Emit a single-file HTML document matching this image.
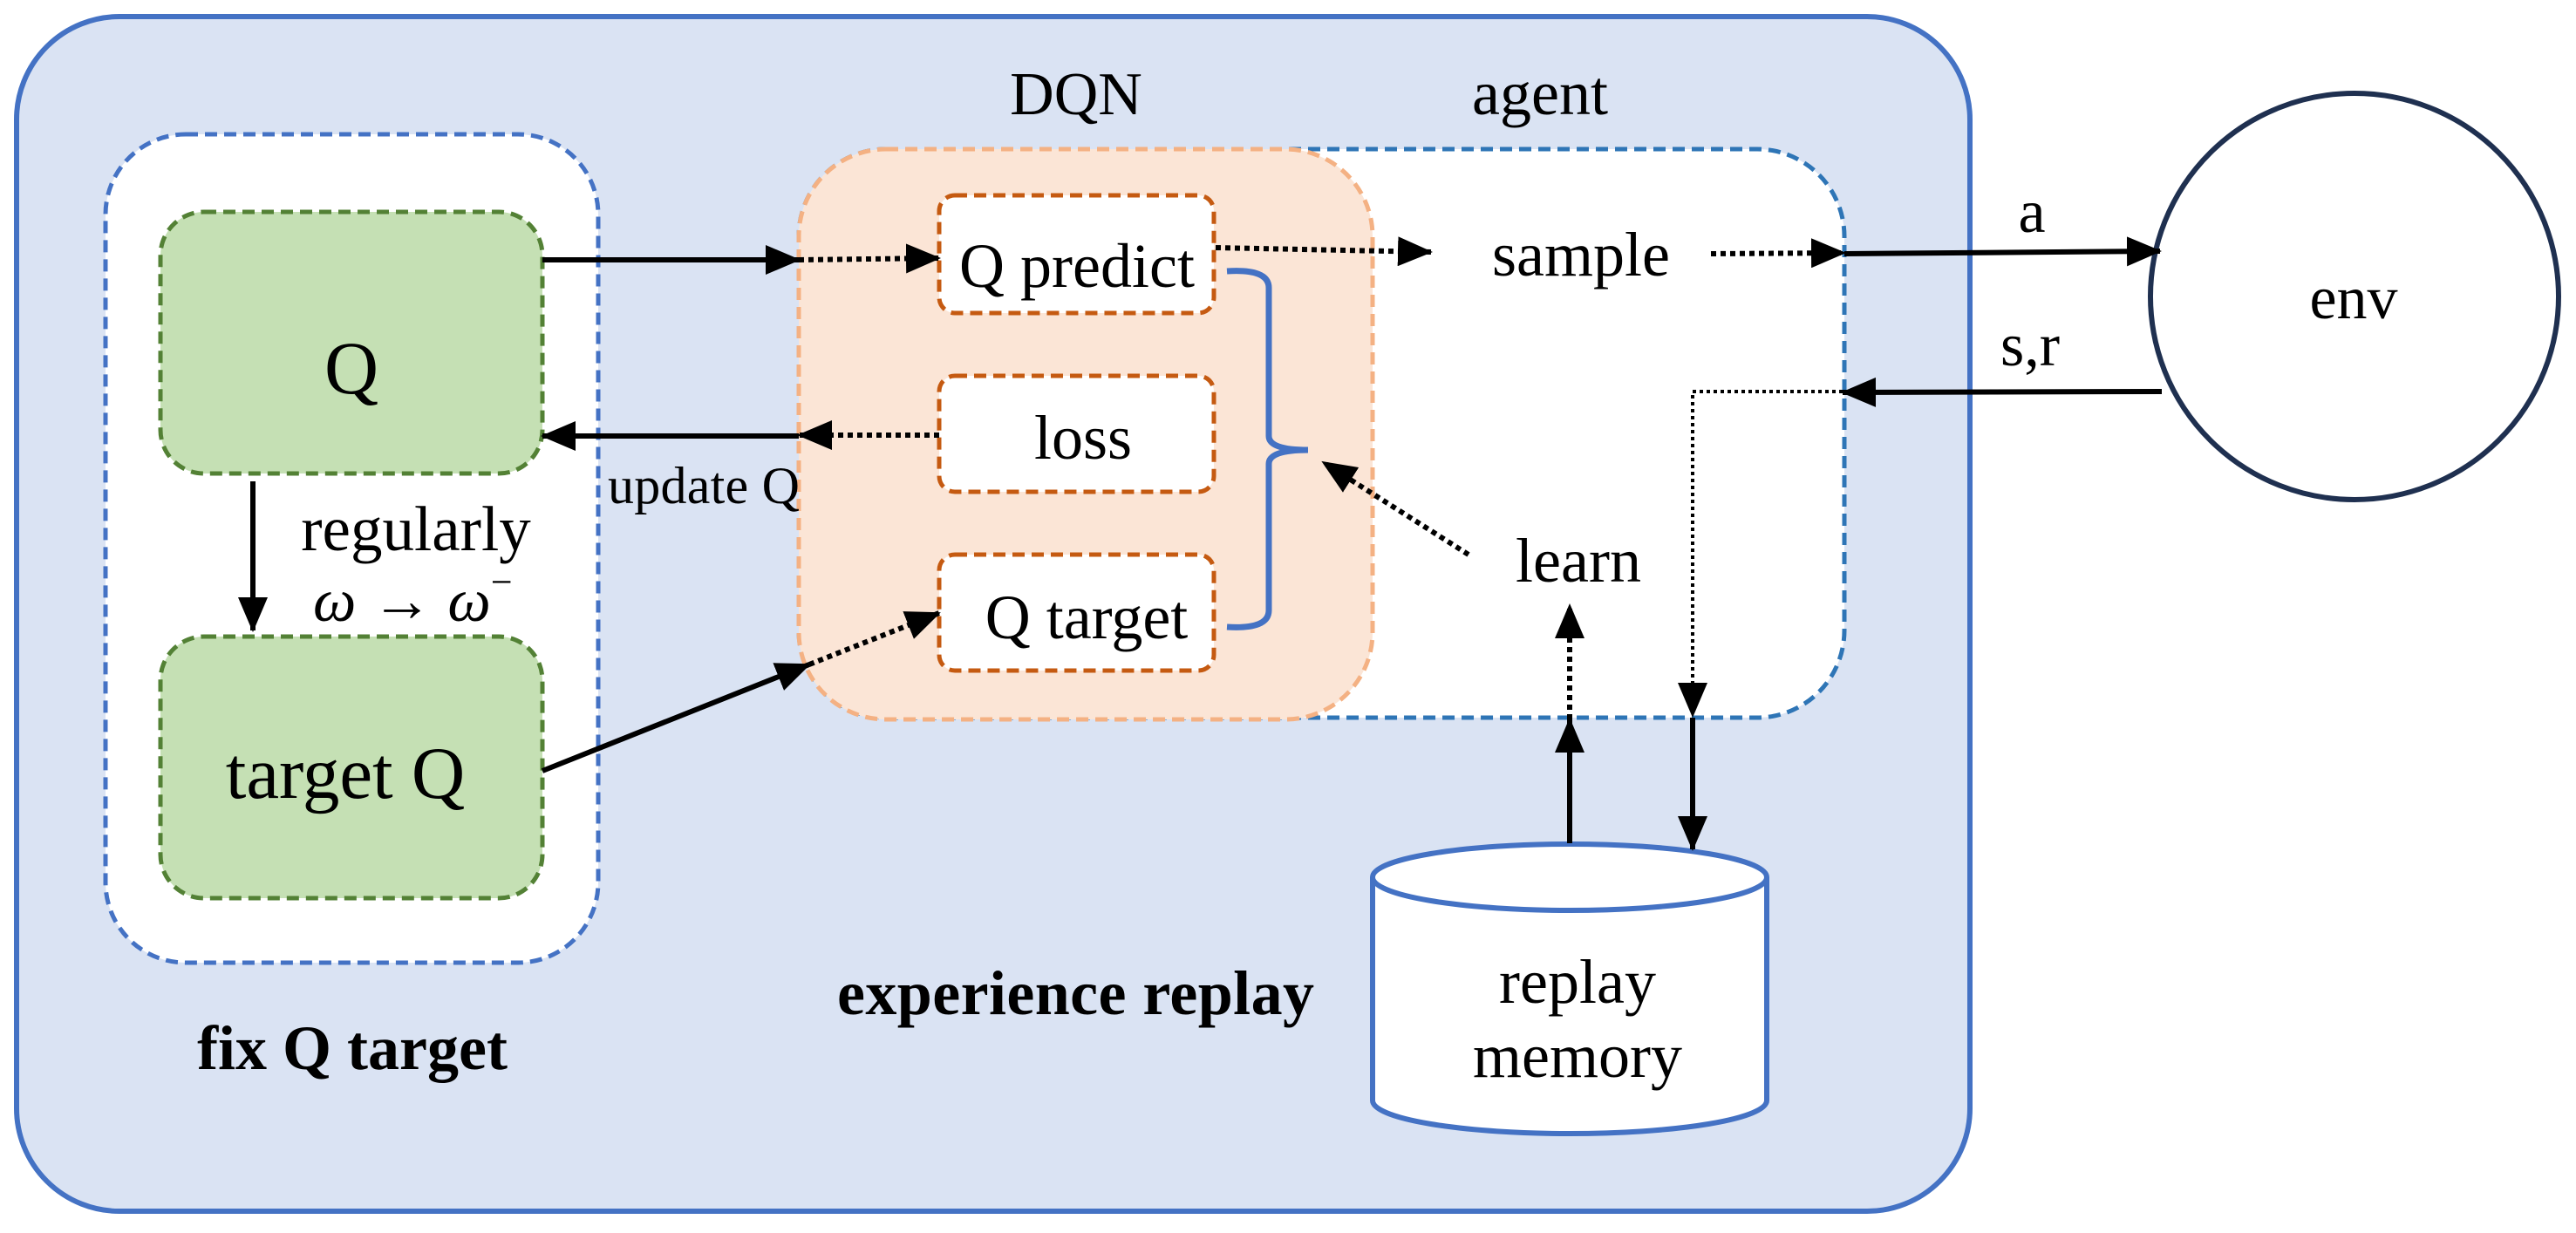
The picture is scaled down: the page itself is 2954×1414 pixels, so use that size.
<!DOCTYPE html>
<html><head><meta charset="utf-8"><style>html,body{margin:0;padding:0;background:#fff}svg{display:block}</style></head>
<body>
<svg width="2954" height="1414" viewBox="0 0 2954 1414" xmlns="http://www.w3.org/2000/svg" font-family="'Liberation Serif', serif">
<defs>
<marker id="ah" markerUnits="userSpaceOnUse" markerWidth="40" markerHeight="34" refX="38" refY="17" orient="auto">
<path d="M0,0 L40,17 L0,34 Z" fill="#000"/></marker>
</defs>
<rect x="19" y="19" width="2240" height="1370" rx="118" fill="#DAE3F3" stroke="#4472C4" stroke-width="6"/>
<rect x="121" y="154" width="565" height="950" rx="92" fill="#fff" stroke="#4472C4" stroke-width="5" stroke-dasharray="14 8"/>
<rect x="184" y="243" width="438" height="300" rx="50" fill="#C5E0B4" stroke="#538135" stroke-width="5" stroke-dasharray="14 8"/>
<rect x="184" y="730" width="438" height="300" rx="50" fill="#C5E0B4" stroke="#538135" stroke-width="5" stroke-dasharray="14 8"/>
<rect x="916" y="171" width="1199" height="652" rx="100" fill="#fff" stroke="#2E75B6" stroke-width="5" stroke-dasharray="14 8"/>
<rect x="916" y="171" width="658" height="654" rx="100" fill="#FBE5D6" stroke="#F4B183" stroke-width="5" stroke-dasharray="14 8"/>
<rect x="1077" y="224" width="315" height="135" rx="18" fill="#fff" stroke="#C55A11" stroke-width="5" stroke-dasharray="14 8"/>
<rect x="1077" y="431" width="315" height="133" rx="18" fill="#fff" stroke="#C55A11" stroke-width="5" stroke-dasharray="14 8"/>
<rect x="1077" y="636" width="315" height="133" rx="18" fill="#fff" stroke="#C55A11" stroke-width="5" stroke-dasharray="14 8"/>
<path d="M1407,311 Q1455,308 1455,330 L1455,500 Q1455,516 1500,516 Q1455,516 1455,532 L1455,700 Q1455,722 1407,719" fill="none" stroke="#4472C4" stroke-width="7"/>
<ellipse cx="2700" cy="340" rx="234" ry="233" fill="#fff" stroke="#1F3050" stroke-width="6"/>
<path d="M1574,1006 L1574,1262 A226,38 0 0 0 2026,1262 L2026,1006" fill="#fff" stroke="#4472C4" stroke-width="6"/>
<ellipse cx="1800" cy="1006" rx="226" ry="38" fill="#fff" stroke="#4472C4" stroke-width="6"/>
<g stroke="#000" stroke-width="6" fill="none">
<line x1="622" y1="298" x2="916" y2="298" marker-end="url(#ah)"/>
<line x1="916" y1="298" x2="1077" y2="296" stroke-dasharray="6 5" marker-end="url(#ah)"/>
<line x1="1077" y1="499" x2="916" y2="499" stroke-dasharray="6 5" marker-end="url(#ah)"/>
<line x1="916" y1="500" x2="622" y2="500" marker-end="url(#ah)"/>
<line x1="290" y1="552" x2="290" y2="723" marker-end="url(#ah)"/>
<line x1="622" y1="884" x2="928" y2="762" marker-end="url(#ah)"/>
<line x1="928" y1="762" x2="1077" y2="703" stroke-dasharray="6 5" marker-end="url(#ah)"/>
<line x1="1394" y1="284" x2="1641" y2="289" stroke-dasharray="6 5" marker-end="url(#ah)"/>
<line x1="1962" y1="291" x2="2115" y2="290" stroke-dasharray="6 5" marker-end="url(#ah)"/>
<line x1="2115" y1="291" x2="2477" y2="288" marker-end="url(#ah)"/>
<line x1="2479" y1="449" x2="2113" y2="450" marker-end="url(#ah)"/>
<polyline points="2113,449 1941,449 1941,821" stroke-width="4" stroke-dasharray="4 4" marker-end="url(#ah)"/>
<line x1="1941" y1="823" x2="1941" y2="974" marker-end="url(#ah)"/>
<line x1="1800" y1="967" x2="1800" y2="825" marker-end="url(#ah)"/>
<line x1="1800" y1="825" x2="1800" y2="694" stroke-dasharray="6 5" marker-end="url(#ah)"/>
<line x1="1684" y1="636" x2="1517" y2="530" stroke-dasharray="6 5" marker-end="url(#ah)"/>
</g>
<g fill="#000" font-size="72">
<text x="403" y="451" text-anchor="middle" font-size="86">Q</text>
<text x="396" y="915" text-anchor="middle" font-size="85">target Q</text>
<text x="1235" y="329" text-anchor="middle">Q predict</text>
<text x="1242" y="526" text-anchor="middle">loss</text>
<text x="1246" y="732" text-anchor="middle">Q target</text>
<text x="1234" y="131" text-anchor="middle" font-size="70">DQN</text>
<text x="1766" y="131" text-anchor="middle">agent</text>
<text x="1813" y="316" text-anchor="middle">sample</text>
<text x="1810" y="667" text-anchor="middle">learn</text>
<text x="2330" y="266" text-anchor="middle" font-size="70">a</text>
<text x="2328" y="419" text-anchor="middle" font-size="70">s,r</text>
<text x="2699" y="365" text-anchor="middle" font-size="70">env</text>
<text x="1809" y="1150" text-anchor="middle">replay</text>
<text x="1809" y="1235" text-anchor="middle">memory</text>
<text x="477" y="631" text-anchor="middle" font-size="73">regularly</text>
<text x="359" y="712" font-size="70" font-style="italic">ω → ω<tspan dy="-30" font-size="44" font-style="normal">−</tspan></text>
<text x="697" y="577" font-size="60" textLength="220">update Q</text>
<text x="404" y="1226" text-anchor="middle" font-weight="bold">fix Q target</text>
<text x="960" y="1163" font-weight="bold" textLength="547">experience replay</text>
</g>
</svg>
</body></html>
